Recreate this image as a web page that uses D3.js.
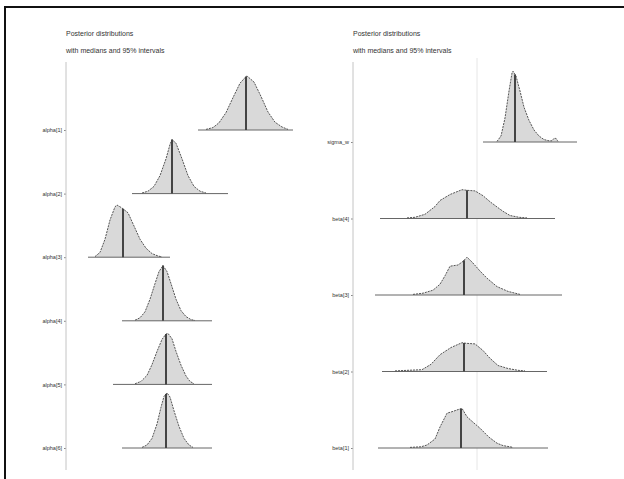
<!DOCTYPE html>
<html>
<head>
<meta charset="utf-8">
<script src="https://cdn.jsdelivr.net/npm/d3@7"></script>
<style>
  body { margin: 0; background: #fff; }
  svg { display: block; font-family: "Liberation Sans", Arial, sans-serif; }
</style>
</head>
<body>
<div id="chart"></div>
<script>
// titles
var titleLines = ["Posterior distributions", "with medians and 95% intervals"];

// left panel
var leftLabels = ["alpha[1]", "alpha[2]", "alpha[3]", "alpha[4]", "alpha[5]", "alpha[6]"];
var leftMedians = [18.0, 10.6, 5.7, 9.7, 10.0, 10.0];
var leftExtents = [[13.2, 22.7], [6.6, 16.2], [2.2, 10.4], [5.6, 14.6], [4.7, 14.6], [5.6, 14.6]];
var alpha1 = [[14.0,0.01],[14.7,0.04],[15.3,0.12],[16.0,0.29],[16.7,0.54],[17.4,0.78],[18.0,0.89],[18.1,0.90],[18.8,0.80],[19.5,0.56],[20.2,0.30],[20.9,0.13],[21.6,0.05],[22.2,0.01]];
var alpha2 = [[7.6,0.01],[8.2,0.04],[8.8,0.12],[9.4,0.30],[10.0,0.58],[10.4,0.82],[10.6,0.90],[11.0,0.84],[11.6,0.58],[12.2,0.30],[12.8,0.12],[13.4,0.04],[14.0,0.01]];
var alpha3 = [[2.9,0.01],[3.4,0.08],[3.9,0.30],[4.4,0.62],[4.9,0.84],[5.1,0.87],[5.6,0.82],[6.2,0.74],[6.8,0.52],[7.4,0.30],[8.0,0.15],[8.6,0.06],[9.2,0.02],[9.6,0.005]];
var alpha4 = [[6.9,0.01],[7.4,0.05],[7.9,0.15],[8.4,0.36],[8.9,0.62],[9.3,0.82],[9.7,0.92],[10.1,0.82],[10.5,0.62],[11.0,0.36],[11.5,0.17],[12.0,0.07],[12.5,0.02],[12.9,0.005]];
var alpha5 = [[6.9,0.01],[7.5,0.05],[8.1,0.15],[8.6,0.33],[9.1,0.55],[9.6,0.75],[10.0,0.84],[10.2,0.85],[10.6,0.76],[11.0,0.55],[11.5,0.32],[12.0,0.14],[12.4,0.05],[12.8,0.01]];
var alpha6 = [[7.6,0.01],[8.1,0.05],[8.6,0.16],[9.1,0.40],[9.5,0.68],[9.8,0.86],[10.1,0.92],[10.4,0.85],[10.8,0.62],[11.3,0.36],[11.8,0.16],[12.3,0.05],[12.7,0.01]];

// right panel
var rightLabels = ["sigma_w", "beta[4]", "beta[3]", "beta[2]", "beta[1]"];
var rightMedians = [16.2, 11.4, 11.1, 11.1, 10.8];
var rightExtents = [[13.0, 22.4], [2.7, 20.2], [2.2, 20.9], [2.9, 19.4], [2.5, 19.5]];
var rightRef = 12.4;
var sigmaW = [[14.4,0.01],[14.8,0.10],[15.2,0.40],[15.6,0.85],[15.9,1.15],[16.0,1.18],[16.3,1.10],[16.7,0.85],[17.1,0.58],[17.6,0.36],[18.1,0.20],[18.6,0.10],[19.1,0.04],[19.6,0.02],[19.9,0.02],[20.1,0.06],[20.3,0.06],[20.5,0.01]];
var beta4 = [[5.4,0.01],[6.2,0.02],[7.2,0.07],[8.2,0.20],[8.7,0.30],[9.7,0.40],[10.9,0.48],[11.4,0.47],[12.2,0.46],[13.0,0.38],[13.7,0.28],[14.5,0.18],[15.0,0.12],[15.7,0.05],[16.6,0.02],[17.4,0.01]];
var beta3 = [[6.0,0.01],[7.0,0.03],[8.0,0.08],[8.7,0.18],[9.2,0.32],[9.7,0.48],[10.5,0.50],[11.0,0.56],[11.4,0.63],[11.9,0.55],[12.7,0.40],[13.4,0.28],[14.4,0.14],[15.5,0.06],[16.7,0.01]];
var beta2 = [[4.2,0.01],[5.5,0.02],[6.9,0.03],[7.8,0.12],[8.7,0.28],[9.8,0.40],[10.9,0.48],[11.3,0.47],[12.2,0.46],[13.0,0.35],[13.7,0.22],[14.5,0.10],[15.5,0.05],[16.5,0.02],[17.2,0.01]];
var beta1 = [[5.7,0.01],[6.8,0.02],[7.4,0.05],[8.2,0.15],[8.7,0.35],[9.4,0.58],[10.0,0.61],[10.5,0.64],[10.9,0.66],[11.4,0.52],[12.0,0.43],[12.7,0.33],[13.6,0.18],[14.4,0.08],[15.0,0.04],[15.7,0.02],[16.0,0.01]];

var leftDensities = [alpha1, alpha2, alpha3, alpha4, alpha5, alpha6];
var rightDensities = [sigmaW, beta4, beta3, beta2, beta1];

var width = 624, height = 479;

var svg = d3.select("#chart").append("svg")
  .attr("width", width)
  .attr("height", height);

// outer frame (cut off at right / bottom)
svg.append("rect")
  .attr("x", 5).attr("y", 7)
  .attr("width", 700).attr("height", 600)
  .attr("fill", "none")
  .attr("stroke", "#111")
  .attr("stroke-width", 2);

// density height scale, shared by both panels
var hScale = d3.scaleLinear().domain([0, 1]).range([0, 60]);

function panel(opts) {
  var g = svg.append("g");
  var x = d3.scaleLinear().domain([0, 24]).range([opts.left, opts.left + 240]);
  var y = d3.scalePoint().domain(opts.labels).range(opts.yRange);

  // titles
  g.selectAll("text.title")
    .data(titleLines)
    .enter().append("text")
    .attr("class", "title")
    .attr("x", opts.left)
    .attr("y", function(d, i) { return 36 + i * 17; })
    .attr("font-size", 7)
    .attr("fill", "#333")
    .text(function(d) { return d; });

  if (opts.ref != null) {
    g.append("line")
      .attr("x1", x(opts.ref)).attr("x2", x(opts.ref))
      .attr("y1", 58).attr("y2", 470)
      .attr("stroke", "#e6e6e6")
      .attr("stroke-width", 1);
  }

  // y axis
  var axis = g.append("g")
    .attr("transform", "translate(" + opts.left + ",0)")
    .call(d3.axisLeft(y).tickSize(2).tickPadding(2));
  axis.select(".domain").remove();
  axis.selectAll(".tick line").attr("stroke", "#888");
  axis.selectAll(".tick text")
    .attr("font-size", 5.5)
    .attr("fill", "#333")
    .attr("font-family", "Liberation Sans, Arial, sans-serif");
  g.append("line")
    .attr("x1", opts.left).attr("x2", opts.left)
    .attr("y1", 62).attr("y2", 470)
    .attr("stroke", "#c4c4c4")
    .attr("stroke-width", 1);

  opts.densities.forEach(function(dens, i) {
    var base = y(opts.labels[i]);
    var ext = opts.extents[i];
    var area = d3.area()
      .x(function(d) { return x(d[0]); })
      .y0(base)
      .y1(function(d) { return base - hScale(d[1]); });
    var line = d3.line()
      .x(function(d) { return x(d[0]); })
      .y(function(d) { return base - hScale(d[1]); });

    g.append("path")
      .datum(dens)
      .attr("d", area)
      .attr("fill", "#d9d9d9");

    // baseline across the full sample range
    g.append("line")
      .attr("x1", x(ext[0])).attr("x2", x(ext[1]))
      .attr("y1", base).attr("y2", base)
      .attr("stroke", "#666")
      .attr("stroke-width", 1);

    g.append("path")
      .datum(dens)
      .attr("d", line)
      .attr("fill", "none")
      .attr("stroke", "#555")
      .attr("stroke-width", 1)
      .attr("stroke-dasharray", "2,1");

    // median line up to the curve
    var m = opts.medians[i];
    var j = d3.bisector(function(d) { return d[0]; }).left(dens, m);
    var a = dens[Math.max(0, j - 1)], b = dens[Math.min(dens.length - 1, j)];
    var t = b[0] === a[0] ? 0 : (m - a[0]) / (b[0] - a[0]);
    var dm = a[1] + t * (b[1] - a[1]);
    g.append("line")
      .attr("x1", x(m)).attr("x2", x(m))
      .attr("y1", base).attr("y2", base - hScale(dm))
      .attr("stroke", "#444")
      .attr("stroke-width", 2);
  });
}

panel({ left: 66, labels: leftLabels, yRange: [130, 448], densities: leftDensities,
        medians: leftMedians, extents: leftExtents, ref: null });
panel({ left: 353, labels: rightLabels, yRange: [142, 448], densities: rightDensities,
        medians: rightMedians, extents: rightExtents, ref: rightRef });
</script>
</body>
</html>
